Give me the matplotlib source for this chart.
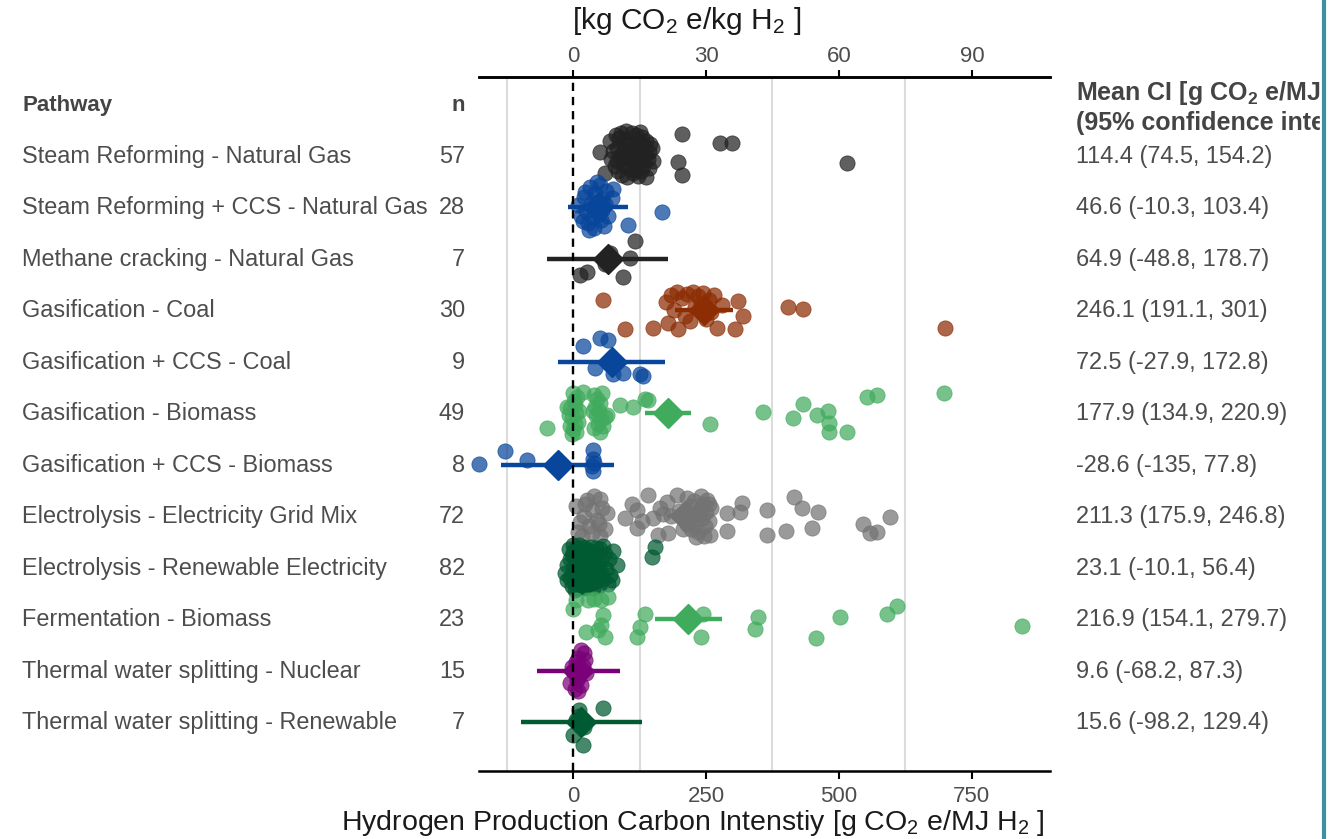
import matplotlib.pyplot as plt
import numpy as np
from matplotlib.transforms import blended_transform_factory
from matplotlib.patches import Rectangle
from matplotlib.lines import Line2D

plt.rcParams['font.family'] = ['Liberation Sans', 'DejaVu Sans']
plt.rcParams['mathtext.fontset'] = 'custom'
plt.rcParams['mathtext.rm'] = 'Liberation Sans'
plt.rcParams['mathtext.it'] = 'Liberation Sans:italic'
plt.rcParams['mathtext.bf'] = 'Liberation Sans:bold'

# ---------------------------------------------------------------
# table data
# ---------------------------------------------------------------
pathways = ["Steam Reforming - Natural Gas",
            "Steam Reforming + CCS - Natural Gas",
            "Methane cracking - Natural Gas",
            "Gasification - Coal",
            "Gasification + CCS - Coal",
            "Gasification - Biomass",
            "Gasification + CCS - Biomass",
            "Electrolysis - Electricity Grid Mix",
            "Electrolysis - Renewable Electricity",
            "Fermentation - Biomass",
            "Thermal water splitting - Nuclear",
            "Thermal water splitting - Renewable"]
n_obs = [57, 28, 7, 30, 9, 49, 8, 72, 82, 23, 15, 7]
mean_ci = [114.4, 46.6, 64.9, 246.1, 72.5, 177.9, -28.6, 211.3, 23.1, 216.9, 9.6, 15.6]
ci_low = [74.5, -10.3, -48.8, 191.1, -27.9, 134.9, -135, 175.9, -10.1, 154.1, -68.2, -98.2]
ci_high = [154.2, 103.4, 178.7, 301, 172.8, 220.9, 77.8, 246.8, 56.4, 279.7, 87.3, 129.4]
colours = ["#222222", "#08469b", "#222222", "#8c2d04", "#08469b", "#41ab5d",
           "#08469b", "#737373", "#005a32", "#41ab5d", "#7a0177", "#005a32"]

# ---------------------------------------------------------------
# individual studies [g CO2e/MJ H2] and vertical jitter (1/100 row)
# ---------------------------------------------------------------
smr_x = [205, 276, 299, 197, 205, 515, 51, 60, 148, 126, 70, 80, 90, 100, 110, 118, 130,
         95, 105, 115, 125, 135, 140, 88, 98, 108, 120, 132, 142, 78, 85, 92, 102, 112,
         122, 138, 145, 75, 83, 93, 103, 113, 123, 133, 143, 72, 82, 96, 106, 116, 128,
         150, 86, 100, 110, 128, 137]
smr_j = [-42, -26, -26, 12, 36, 14, -8, 34, -16, -46, -30, -40, -44, -48, -44, -40, -36,
         -20, -24, -16, -10, -4, 6, 0, 4, 10, 16, 20, 24, 20, 30, 36, 40, 34,
         38, 40, -24, -10, -16, -6, -12, 0, -28, -20, -8, 6, 10, 16, 24, 28, 30,
         10, -34, -32, -4, 4, -30]

smr_ccs_x = [167, 103, 75, 73, 10, 15, 20, 25, 28, 32, 35, 38, 40, 42, 45, 48, 50, 52,
             55, 58, 60, 62, 65, 30, 22, 45, 18, 55]
smr_ccs_j = [8, 34, -36, -18, -4, 16, -20, 6, 30, -40, -10, 20, 40, -28, 0, 12, -44, 24,
             -16, 36, -6, -32, 16, 44, -30, -50, 26, 4]

crack_x = [117, 107, 26, 13, 94, 70, 60]
crack_j = [-34, -2, 26, 32, 36, -12, 10]

coal_x = [56, 98, 150, 179, 197, 271, 305, 320, 310, 404, 432, 699, 175, 185, 195, 205,
          215, 225, 235, 245, 255, 265, 280, 190, 210, 230, 250, 260, 220, 240]
coal_j = [-20, 36, 34, 24, 36, 34, 36, 10, -18, -6, -2, 34, -16, -30, -36, -24,
          -32, -36, -28, -34, -20, -30, -10, 0, 10, -6, 16, 4, 20, -12]

coal_ccs_x = [19, 51, 66, 41, 75, 94, 126, 132, 72]
coal_ccs_j = [-30, -46, -42, 12, 24, 22, 24, 28, -6]

bio_x = [-49, -11, 19, 64, 88, 113, 135, 141, 258, 357, 414, 432, 459, 479, 481, 481,
         515, 553, 571, 697,
         0, 2, -5, 5, -3, 4, 0, -2, 8, -8, 6, 3, 10, -6, 12,
         40, 45, 50, 42, 48, 44, 52, 46, 40, 50, 55, 38, 56, 60]
bio_j = [28, -12, -42, 4, -16, -12, -28, -26, 20, -2, 10, -18, 4, -4, 18, 36,
         36, -32, -36, -40,
         -40, -24, -10, 0, 10, 20, 30, 40, -32, 4, 36, -16, 16, 24, -4,
         -36, -28, -20, -12, -4, 4, 12, 20, 28, 36, -40, -4, 24, 8]

bio_ccs_x = [-177, -128, -86, 38, 38, 36, 38, 40]
bio_ccs_j = [-2, -26, -10, -28, -12, 2, 12, -4]

grid_x = [289, 289, 314, 318, 365, 365, 400, 415, 430, 449, 461, 545, 558, 571, 596,
          26, 51, 64, 36, 13, 60, 17, 51, 5, 20, 30, 40, 45, 10, 55, 35, 22, 48,
          98, 120, 120, 141, 150, 164, 177, 179, 195, 207, 110, 130, 160, 185, 170, 200,
          214, 220, 225, 230, 235, 240, 245, 250, 255, 258, 218, 228, 238, 248, 252,
          232, 242, 222, 260, 236, 246, 215, 256]
grid_j = [-6, 28, -8, -26, -12, 36, 28, -38, -16, 22, -8, 16, 32, 30, 2,
          -32, -34, -6, -12, 12, 24, 38, 38, -20, 0, 20, -40, 8, 30, -16, 32, -24, 16,
          4, -12, 22, -42, 4, -16, -28, 32, -42, 24, -24, 10, 36, 0, -4, -10,
          -36, -20, 0, 16, 30, -40, -24, -8, 10, 36, 8, -30, -12, 20, -32,
          40, 4, 24, -16, -4, 38, 16, -24]

renew_x = [154, 148,
           75, 83, 73, 56, -11, -15, -8, -5, -3, -2, 0, 0, 2, 3, 4, 5, 6, 7, 8, 9,
           10, 11, 12, 13, 14, 15, 16, 17, 18, 19, 20, 21, 22, 23, 24, 25, 26, 27, 28, 29,
           30, 31, 32, 33, 34, 35, 36, 37, 38, 39, 40, 42, 44, 46, 48, 50, 52, 54, 57, 60,
           62, 65, 68, 70, -12, -6, 1, 3, 6, 9, 12, 15, 18, 22, 26, 30, 34, 38, 43, 47]
renew_j = [-40, -20,
           -32, -6, 24, -42, -6, 10, -36, 20, -24, 36, -44, 0, 12, -16, 28, -30, 4, 40, -10, 18,
           -38, -2, 32, -20, 8, 22, -28, -12, 38, 2, -40, 14, -6, 26, -18, 6, -34, 20, -2, 34,
           -24, 10, -12, 30, -40, 0, 18, -30, 40, -8, 12, -20, 26, -4, 36, -36, 8, -14, 22, -26,
           2, 32, -16, 14, 24, -16, -32, 44, -22, 30, -44, 0, -14, 40, -26, 28, -4, 16, -38, 6]

ferm_x = [6, 28, 53, 66, 0, 56, 53, 24, 47, 60, 135, 126, 120, 244, 241, 348, 342, 502,
          457, 590, 609, 844, 40]
ferm_j = [-38, -38, -38, -42, -20, -8, 12, 26, 22, 34, -10, 16, 34, -10, 34, -4, 20, -4,
          36, -10, -26, 14, -40]

nuc_x = [15, 20, 10, 5, 18, 0, 25, 12, 8, -5, 15, 3, 22, -2, 10]
nuc_j = [-40, -34, -24, -16, -8, 0, 4, 10, 18, 24, 28, 36, -20, -6, 40]

twr_x = [56, 11, 6, 0, 19, 20, 12]
twr_j = [-28, -24, -4, 26, 44, 10, -12]

values = [smr_x, smr_ccs_x, crack_x, coal_x, coal_ccs_x, bio_x, bio_ccs_x,
          grid_x, renew_x, ferm_x, nuc_x, twr_x]
jitters = [smr_j, smr_ccs_j, crack_j, coal_j, coal_ccs_j, bio_j, bio_ccs_j,
           grid_j, renew_j, ferm_j, nuc_j, twr_j]

# ---------------------------------------------------------------
# figure
# ---------------------------------------------------------------
W, H = 1329, 839
fig = plt.figure(figsize=(W / 100, H / 100), dpi=100)
ax = fig.add_axes([479 / W, 1 - 771 / H, 571 / W, 694 / H])

ax.set_xlim(-177, 897)
ax.set_ylim(12.952, -0.535)

# minor grid lines (half way between the ticks)
for g in [-125, 125, 375, 625]:
    ax.axvline(g, color="#dcdcdc", lw=1.5, zorder=0)
ax.axvline(0, color="black", lw=1.7, ls=(0, (3.5, 2.5)), zorder=5)

for i in range(len(pathways)):
    row = i + 1
    c = colours[i]
    ax.plot([ci_low[i], ci_high[i]], [row, row], color=c, lw=3.2,
            solid_capstyle="butt", zorder=2)
    ax.plot(mean_ci[i], row, marker="D", markersize=15, color=c, zorder=2)
    y = row + np.array(jitters[i]) / 100
    ax.scatter(values[i], y, s=120, color=c, alpha=0.72, edgecolors=c,
               linewidths=0.6, zorder=3, clip_on=False)

# axes styling
for s in ["left", "right"]:
    ax.spines[s].set_visible(False)
for s in ["top", "bottom"]:
    ax.spines[s].set_linewidth(1.8)
ax.set_yticks([])
ax.set_xticks([0, 250, 500, 750])
ax.tick_params(axis="x", direction="out", length=6, width=1.5, labelsize=16,
               labelcolor="#4d4d4d", pad=5)

secax = ax.secondary_xaxis("top", functions=(lambda v: v * 0.12, lambda k: k / 0.12))
secax.set_xticks([0, 30, 60, 90])
secax.spines["top"].set_linewidth(1.8)
secax.tick_params(direction="out", length=5, width=1.5, labelsize=16,
                  labelcolor="#4d4d4d", pad=2)

fig.text(687 / W, 1 - 21 / H, r"[kg CO$_2$ e/kg H$_2$ ]", ha="center", va="center",
         fontsize=21.5, color="#1a1a1a")
fig.text(693 / W, 1 - 823 / H, r"Hydrogen Production Carbon Intenstiy [g CO$_2$ e/MJ H$_2$ ]",
         ha="center", va="center", fontsize=20.5, color="#1a1a1a")

# table columns
trans = blended_transform_factory(fig.transFigure, ax.transData)
ax.text(22 / W, 0.02, "Pathway", transform=trans, ha="left", va="center",
        fontsize=16, fontweight="bold", color="#444444")
ax.text(465 / W, 0.02, "n", transform=trans, ha="right", va="center",
        fontsize=16, fontweight="bold", color="#444444")
ax.text(1076 / W, -0.22, r"Mean CI [g CO$_\mathbf{2}$ e/MJ H$_\mathbf{2}$]", transform=trans,
        ha="left", va="center", fontsize=18, fontweight="bold", color="#444444")
ax.text(1076 / W, 0.35, "(95% confidence interval)", transform=trans,
        ha="left", va="center", fontsize=18, fontweight="bold", color="#444444")

for i in range(len(pathways)):
    row = i + 1.01
    ax.text(22 / W, row, pathways[i], transform=trans, ha="left", va="center",
            fontsize=16.9, color="#4d4d4d")
    ax.text(465 / W, row, str(n_obs[i]), transform=trans, ha="right", va="center",
            fontsize=16.9, color="#4d4d4d")
    label = f"{mean_ci[i]:g} ({ci_low[i]:g}, {ci_high[i]:g})"
    ax.text(1076 / W, row, label, transform=trans, ha="left", va="center",
            fontsize=16.9, color="#4d4d4d")

# cut-off at the right edge
fig.add_artist(Rectangle((1320 / W, 0), 9 / W, 1, transform=fig.transFigure,
                         color="white", zorder=10))
fig.add_artist(Line2D([1324 / W, 1324 / W], [0, 1], transform=fig.transFigure,
                      color="#3f929c", lw=3, zorder=11))

fig.savefig("out.png", dpi=100)
